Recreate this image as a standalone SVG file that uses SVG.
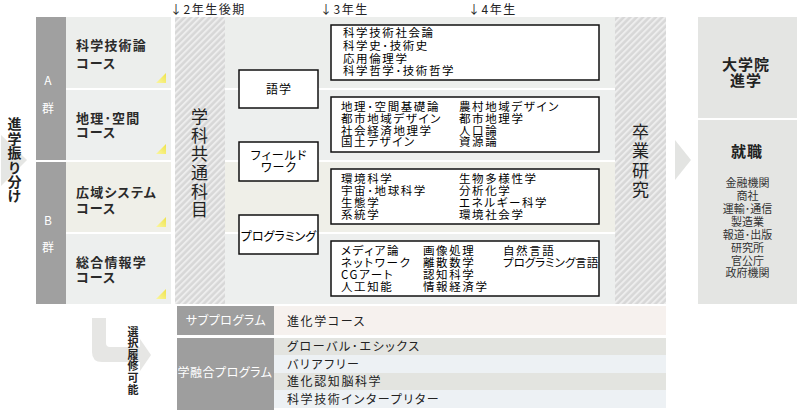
<svg xmlns="http://www.w3.org/2000/svg" width="800" height="410" viewBox="0 0 800 410">
<style>
text{font-family:"Noto Sans CJK JP","Noto Sans",sans-serif;fill:#222;font-feature-settings:"palt"}
.hd{font-size:12px;letter-spacing:1.5px;fill:#222}
.course{font-size:13px;letter-spacing:1.2px;font-weight:bold;fill:#2a2a2a}
.grp{font-size:12px;fill:#fff;text-anchor:middle}
.vt{font-size:17px;fill:#222;writing-mode:vertical-rl;text-orientation:upright}
.sm{fill:#fff;stroke:#111;stroke-width:1.5}
.lb{font-size:11.5px;letter-spacing:1.6px;fill:#000}
.sl{font-size:12px;letter-spacing:1px;text-anchor:middle;fill:#000}
.rl{font-size:11px;text-anchor:middle;fill:#333}
.rh{font-size:15px;font-weight:bold;text-anchor:middle;fill:#222;letter-spacing:1px}
.bt{font-size:12px;letter-spacing:1.6px;fill:#222}
.bl{font-size:12px;fill:#fff;text-anchor:middle;letter-spacing:0.5px}
</style>
<defs>
<pattern id="hatch" width="4.5" height="4.5" patternUnits="userSpaceOnUse" patternTransform="rotate(45)">
<rect width="4.5" height="4.5" fill="#d7d7d7"/>
<rect width="2" height="4.5" fill="#ededed"/>
</pattern>
<linearGradient id="yg" x1="0" y1="1" x2="1" y2="0">
<stop offset="0" stop-color="#fbf7a0"/>
<stop offset="1" stop-color="#eee24a"/>
</linearGradient>
</defs>
<rect width="800" height="410" fill="#fff"/>

<!-- headers -->
<g id="headers">
<text class="hd" x="170" y="13.5">↓2年生後期</text>
<text class="hd" x="320" y="13.5">↓3年生</text>
<text class="hd" x="468" y="13.5">↓4年生</text>
</g>

<!-- left arrow: 進学振り分け -->
<g id="shinfuri">
<polygon points="1,135 27,160 1,186" fill="#e5e6e4"/>
<text x="14.5" y="117" style="font-size:14px;font-weight:bold;fill:#222;writing-mode:vertical-rl;text-orientation:upright;letter-spacing:0.4px">進学振り分け</text>
</g>

<!-- group bars -->
<g id="groupA">
<rect x="36" y="17" width="30" height="143" fill="#a0a0a0"/>
<text class="grp" x="48" y="85">A</text>
<text class="grp" x="48" y="113">群</text>
</g>
<g id="groupB">
<rect x="36" y="162" width="30" height="142" fill="#a0a0a0"/>
<text class="grp" x="48" y="225">B</text>
<text class="grp" x="48" y="252">群</text>
</g>

<!-- course boxes -->
<g id="course1">
<rect x="66" y="17" width="105" height="71" fill="#eceeec"/>
<text class="course"><tspan x="76" y="50">科学技術論</tspan><tspan x="76" y="68">コース</tspan></text>
<polygon points="166,73 166,83 156,83" fill="url(#yg)"/>
</g>
<g id="course2">
<rect x="66" y="90" width="105" height="70" fill="#edefee"/>
<text class="course"><tspan x="76" y="123">地理･空間</tspan><tspan x="76" y="137">コース</tspan></text>
<polygon points="166,144 166,154 156,154" fill="url(#yg)"/>
</g>
<g id="course3">
<rect x="66" y="162" width="105" height="70" fill="#efefe8"/>
<text class="course"><tspan x="76" y="197">広域システム</tspan><tspan x="76" y="213">コース</tspan></text>
<polygon points="166,217 166,227 156,227" fill="url(#yg)"/>
</g>
<g id="course4">
<rect x="66" y="234" width="105" height="70" fill="#edefee"/>
<text class="course"><tspan x="76" y="267">総合情報学</tspan><tspan x="76" y="282">コース</tspan></text>
<polygon points="166,289 166,299 156,299" fill="url(#yg)"/>
</g>

<!-- common subjects column -->
<g id="common">
<rect x="175" y="17" width="50" height="287" fill="url(#hatch)"/>
<text class="vt" x="199.5" y="108" style="letter-spacing:1.7px">学科共通科目</text>
</g>

<!-- middle row backgrounds -->
<g id="rows">
<rect x="225" y="17" width="390" height="71" fill="#eceeec"/>
<rect x="225" y="90" width="390" height="70" fill="#edefee"/>
<rect x="225" y="162" width="390" height="70" fill="#efefe8"/>
<rect x="225" y="234" width="390" height="70" fill="#edefee"/>
</g>

<!-- small boxes -->
<g id="gogaku">
<rect class="sm" x="239" y="70" width="79" height="38"/>
<text class="sl" x="279" y="94">語学</text>
</g>
<g id="fieldwork">
<rect class="sm" x="239" y="142" width="79" height="39"/>
<text class="sl"><tspan x="279" y="159.5">フィールド</tspan><tspan x="279" y="171.5">ワーク</tspan></text>
</g>
<g id="programming">
<rect class="sm" x="239" y="215" width="79" height="39"/>
<text class="sl" x="278.5" y="240.5" style="letter-spacing:0">プログラミング</text>
</g>

<!-- large boxes -->
<g id="box-a1">
<rect class="sm" x="331" y="25" width="268" height="55"/>
<text class="lb"><tspan x="343" y="37">科学技術社会論</tspan><tspan x="343" y="50">科学史･技術史</tspan><tspan x="343" y="62.5">応用倫理学</tspan><tspan x="343" y="75">科学哲学･技術哲学</tspan></text>
</g>
<g id="box-a2">
<rect class="sm" x="331" y="97" width="268" height="55"/>
<text class="lb"><tspan x="341" y="111">地理･空間基礎論</tspan><tspan x="341" y="123">都市地域デザイン</tspan><tspan x="341" y="134.5">社会経済地理学</tspan><tspan x="341" y="146">国土デザイン</tspan></text>
<text class="lb"><tspan x="459" y="111">農村地域デザイン</tspan><tspan x="459" y="123">都市地理学</tspan><tspan x="459" y="134.5">人口論</tspan><tspan x="459" y="146">資源論</tspan></text>
</g>
<g id="box-b1">
<rect class="sm" x="331" y="169" width="268" height="55"/>
<text class="lb"><tspan x="341" y="183">環境科学</tspan><tspan x="341" y="195">宇宙･地球科学</tspan><tspan x="341" y="207">生態学</tspan><tspan x="341" y="219">系統学</tspan></text>
<text class="lb"><tspan x="459" y="183">生物多様性学</tspan><tspan x="459" y="195">分析化学</tspan><tspan x="459" y="207">エネルギー科学</tspan><tspan x="459" y="219">環境社会学</tspan></text>
</g>
<g id="box-b2">
<rect class="sm" x="331" y="241" width="268" height="55"/>
<text class="lb"><tspan x="341" y="255">メディア論</tspan><tspan x="341" y="266.5">ネットワーク</tspan><tspan x="341" y="278.5">CGアート</tspan><tspan x="341" y="291">人工知能</tspan></text>
<text class="lb"><tspan x="423" y="255">画像処理</tspan><tspan x="423" y="266.5">離散数学</tspan><tspan x="423" y="278.5">認知科学</tspan><tspan x="423" y="291">情報経済学</tspan></text>
<text class="lb"><tspan x="503" y="255">自然言語</tspan><tspan x="503" y="266.5" style="letter-spacing:0">プログラミング言語</tspan></text>
</g>

<!-- graduation research -->
<g id="sotsuken">
<rect x="615" y="17" width="51" height="287" fill="url(#hatch)"/>
<text class="vt" x="640.5" y="123" style="letter-spacing:2.3px">卒業研究</text>
</g>

<!-- connectors -->
<g id="connectors">
<polygon points="675,140 691,160 675,180" fill="#e3e4e2"/>
<path d="M92,318 L106,318 L106,343 Q106,347 110,347 L140,347 L140,339 L151,355 L140,371 L140,362 L102,362 Q92,362 92,352 Z" fill="#e6e6e4"/>
</g>

<!-- right boxes -->
<g id="graduate">
<rect x="698" y="17" width="99" height="101" fill="#e4e5e3"/>
<text class="rh"><tspan x="746" y="70">大学院</tspan><tspan x="746" y="86">進学</tspan></text>
</g>
<g id="employment">
<rect x="698" y="120" width="99" height="184" fill="#e4e5e3"/>
<text class="rh" x="747" y="157">就職</text>
<text class="rl"><tspan x="747.5" y="187">金融機関</tspan><tspan x="747.5" y="200">商社</tspan><tspan x="747.5" y="212.5">運輸･通信</tspan><tspan x="747.5" y="225.5">製造業</tspan><tspan x="747.5" y="238.5">報道･出版</tspan><tspan x="747.5" y="251.5">研究所</tspan><tspan x="747.5" y="264.5">官公庁</tspan><tspan x="747.5" y="277">政府機関</tspan></text>
</g>

<!-- elective label -->
<g id="elective">
<text x="133" y="326" style="font-size:11px;font-weight:bold;fill:#222;writing-mode:vertical-rl;text-orientation:upright;letter-spacing:0.6px">選択履修可能</text>
</g>

<!-- sub program table -->
<g id="subprogram">
<rect x="177" y="306" width="97" height="29" fill="#9e9e9e"/>
<text class="bl" x="226" y="325">サブプログラム</text>
<rect x="274" y="306" width="392" height="29" fill="#f6f1ee"/>
<text class="bt" x="287" y="326">進化学コース</text>
</g>
<g id="interdisciplinary">
<rect x="177" y="338" width="97" height="72" fill="#9e9e9e"/>
<text class="bl" x="225" y="376.5">学融合プログラム</text>
<rect x="274" y="338" width="392" height="17" fill="#e3e4e0"/>
<rect x="274" y="355" width="392" height="18" fill="#edf1f4"/>
<rect x="274" y="373" width="392" height="17" fill="#e3e4e0"/>
<rect x="274" y="390" width="392" height="18" fill="#edf1f4"/>
<text class="bt"><tspan x="287" y="351">グローバル･エシックス</tspan><tspan x="287" y="368.5">バリアフリー</tspan><tspan x="287" y="386">進化認知脳科学</tspan><tspan x="287" y="403.5">科学技術インタープリター</tspan></text>
</g>
</svg>
